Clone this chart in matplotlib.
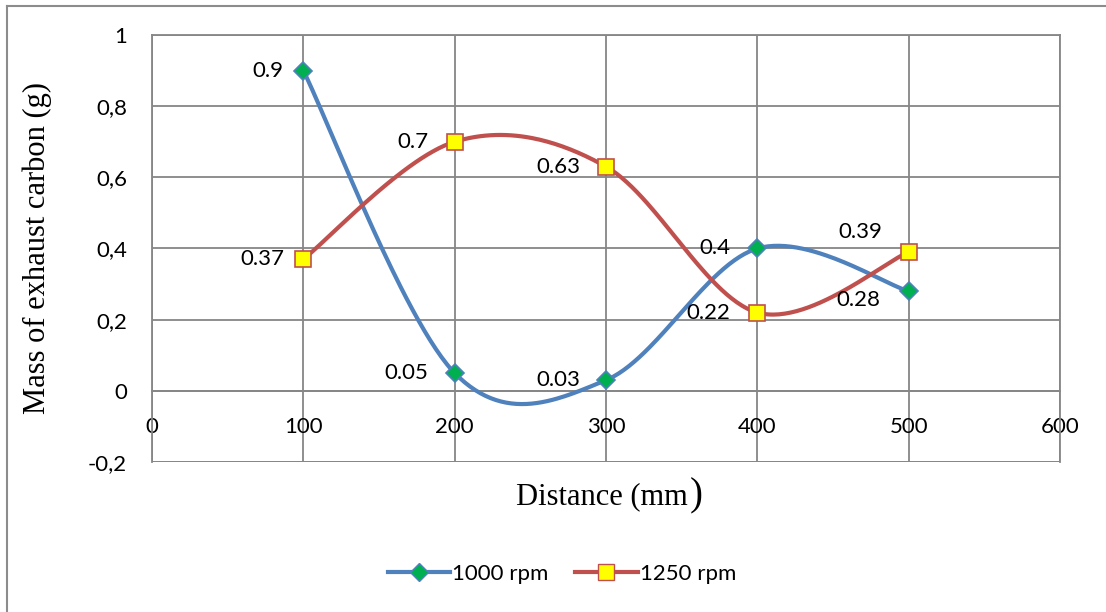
import numpy as np
import matplotlib.pyplot as plt
from matplotlib.lines import Line2D

# data
distance = [100, 200, 300, 400, 500]
rpm_1000 = [0.9, 0.05, 0.03, 0.4, 0.28]
rpm_1250 = [0.37, 0.7, 0.63, 0.22, 0.39]
y_ticks = [-0.2, 0, 0.2, 0.4, 0.6, 0.8, 1]
x_ticks = [0, 100, 200, 300, 400, 500, 600]

# label offsets in pixels (dx, dy), label right-aligned at point
off_1000 = [(-20, 0), (-26, 0), (-26, 0), (-27, 0), (-28, -9)]
off_1250 = [(-19, 0), (-26, 0), (-26, 0), (-27, 0), (-26, 20)]

BLUE = "#4F81BD"
RED = "#C0504D"
GRID = "#868686"
FS = 16


def smooth(xs, ys, n=60):
    # Excel-like smoothed line: cubic Bezier with Catmull-Rom control points
    p = np.column_stack([xs, ys]).astype(float)
    pts = [p[0]] + list(p) + [p[-1]]
    out = []
    for i in range(1, len(pts) - 2):
        p0, p1, p2, p3 = pts[i - 1], pts[i], pts[i + 1], pts[i + 2]
        c1 = p1 + (p2 - p0) / 6
        c2 = p2 - (p3 - p1) / 6
        t = np.linspace(0, 1, n)[:, None]
        seg = ((1 - t) ** 3) * p1 + 3 * ((1 - t) ** 2) * t * c1 + 3 * (1 - t) * t ** 2 * c2 + t ** 3 * p2
        out.append(seg)
    s = np.vstack(out)
    return s[:, 0], s[:, 1]


fig = plt.figure(figsize=(11.06, 6.12), dpi=100)
ax = fig.add_axes([152 / 1106, 1 - 462 / 612, (1060 - 152) / 1106, (462 - 35) / 612])

# outer chart border (left and top only visible)
fig.add_artist(Line2D([7 / 1106, 7 / 1106], [0, 1 - 6 / 612], transform=fig.transFigure,
                      color="#8c8c8c", lw=1.5))
fig.add_artist(Line2D([7 / 1106, 1], [1 - 6 / 612, 1 - 6 / 612], transform=fig.transFigure,
                      color="#8c8c8c", lw=1.5))

sx, sy = smooth(distance, rpm_1000)
ax.plot(sx, sy, color=BLUE, lw=3, zorder=3, solid_capstyle="round")
ax.plot(distance, rpm_1000, ls="none", marker="D", ms=9, mfc="#00B050", mec=BLUE, mew=1.2, zorder=4)

sx, sy = smooth(distance, rpm_1250)
ax.plot(sx, sy, color=RED, lw=3, zorder=3, solid_capstyle="round")
ax.plot(distance, rpm_1250, ls="none", marker="s", ms=12, mfc="#FFFF00", mec=RED, mew=1.2, zorder=4)

for x, y, (dx, dy) in zip(distance, rpm_1000, off_1000):
    ax.annotate(f"{y:g}", (x, y), xytext=(dx, dy), textcoords="offset pixels",
                ha="right", va="center", fontsize=FS, family="Lato")
for x, y, (dx, dy) in zip(distance, rpm_1250, off_1250):
    ax.annotate(f"{y:g}", (x, y), xytext=(dx, dy), textcoords="offset pixels",
                ha="right", va="center", fontsize=FS, family="Lato")

ax.spines["bottom"].set_position(("data", 0))
ax.set_xlim(0, 600)
ax.set_ylim(-0.2, 1)
ax.set_xticks(x_ticks)
ax.set_yticks(y_ticks)
ax.set_yticklabels([f"{v:g}".replace(".", ",") for v in y_ticks])
ax.set_xticklabels([str(v) for v in x_ticks])
ax.tick_params(axis="both", length=0, labelsize=FS, labelfontfamily="Lato")
ax.tick_params(axis="y", pad=18)
ax.tick_params(axis="x", pad=19)
ax.grid(True, color=GRID, lw=1.3)
ax.set_axisbelow(True)
for s in ax.spines.values():
    s.set_color(GRID)
    s.set_linewidth(1.3)
# bottom border of plot area at -0.2
ax.axhline(-0.2, color=GRID, lw=1.3, zorder=0)

fig.text(37 / 1106, 1 - 248 / 612, "Mass of exhaust carbon (g)", rotation=90,
         ha="center", va="center", fontsize=22, family="Liberation Serif")
fig.text(688 / 1106, 1 - 497 / 612, "Distance (mm", ha="right", va="center",
         fontsize=22, family="Liberation Serif")
fig.text(690 / 1106, 1 - 496 / 612, ")", ha="left", va="center",
         fontsize=28, family="Liberation Serif")

handles = [
    Line2D([], [], color=BLUE, lw=3, marker="D", ms=9, mfc="#00B050", mec=BLUE),
    Line2D([], [], color=RED, lw=3, marker="s", ms=12, mfc="#FFFF00", mec=RED),
]
fig.legend(handles, ["1000 rpm", "1250 rpm"], loc="center", bbox_to_anchor=(562 / 1106, 1 - 574 / 612),
           ncol=2, frameon=False, prop={"family": "Lato", "size": FS},
           handlelength=2.8, handletextpad=0.1, columnspacing=1.2)

fig.savefig("out.png", dpi=100)
